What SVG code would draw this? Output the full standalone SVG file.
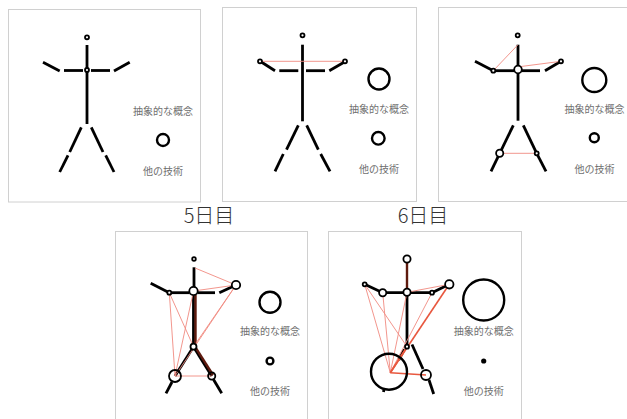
<svg xmlns="http://www.w3.org/2000/svg" width="627" height="419" viewBox="0 0 627 419">
  <defs>
    <style>
      .frame { fill: #fff; stroke: #d0d0d0; stroke-width: 1; }
      .bone { stroke: #000; stroke-width: 2.8; stroke-linecap: butt; fill: none; }
      .bone-dark { stroke: #5e1a0e; stroke-width: 2.4; fill: none; }
      .joint { fill: #fff; stroke: #000; stroke-width: 1.8; }
      .ring { fill: none; stroke: #000; stroke-width: 2.4; }
      .label { font-family: "Noto Sans CJK JP", "Noto Sans", sans-serif; font-size: 10px; fill: #707070; text-anchor: middle; }
      .title { font-family: "Noto Sans CJK JP", "Noto Sans", sans-serif; font-size: 20px; font-weight: 300; fill: #333; text-anchor: middle; }
      .link { stroke: #f08a80; stroke-width: 0.9; fill: none; }
      .link-strong { stroke: #e8583f; stroke-width: 1.6; fill: none; }
    </style>
  </defs>

  <rect width="627" height="419" fill="#fff"/>

  <!-- frames -->
  <g id="frames">
    <rect class="frame" x="8.5" y="9.5" width="192" height="192.5"/>
    <rect class="frame" x="222.5" y="7.5" width="194" height="194"/>
    <rect class="frame" x="438.5" y="7.5" width="200" height="194"/>
    <rect class="frame" x="115.5" y="231.5" width="192" height="200"/>
    <rect class="frame" x="328.5" y="231.5" width="193" height="200"/>
  </g>

  <g id="titles">
    <text class="title" x="209" y="223">5日目</text>
    <text class="title" x="423" y="223">6日目</text>
  </g>

  <!-- day 1 -->
  <g id="figure1">
    <line class="bone" x1="87" y1="45" x2="87" y2="124"/>
    <line class="bone" x1="64" y1="70.5" x2="83" y2="70.5"/>
    <line class="bone" x1="91" y1="70.5" x2="110" y2="70.5"/>
    <line class="bone" x1="43" y1="62.3" x2="59.7" y2="71"/>
    <line class="bone" x1="114" y1="71" x2="129.7" y2="62.3"/>
    <line class="bone" x1="81.3" y1="127.3" x2="69.7" y2="152"/>
    <line class="bone" x1="68" y1="155.3" x2="59.7" y2="172"/>
    <line class="bone" x1="91.3" y1="127.3" x2="103" y2="152"/>
    <line class="bone" x1="105.7" y1="155.3" x2="114" y2="172"/>
    <circle class="joint" cx="87" cy="37.3" r="2"/>
    <circle class="joint" cx="87" cy="70" r="2"/>
  </g>
  <g id="legend1">
    <text class="label" x="163" y="114.5">抽象的な概念</text>
    <circle class="ring" cx="163" cy="140" r="6"/>
    <text class="label" x="163" y="174.5">他の技術</text>
  </g>

  <!-- day 2 -->
  <g id="figure2">
    <line class="bone" x1="302.5" y1="44.7" x2="302.5" y2="121.3"/>
    <line class="bone" x1="261.7" y1="62.3" x2="275" y2="70.7"/>
    <line class="bone" x1="279.3" y1="70.7" x2="298.3" y2="70.7"/>
    <line class="bone" x1="306" y1="70.7" x2="325" y2="70.7"/>
    <line class="bone" x1="329.3" y1="70.7" x2="344" y2="62.3"/>
    <line class="bone" x1="298.3" y1="125.3" x2="286.5" y2="149.7"/>
    <line class="bone" x1="283.3" y1="154" x2="275" y2="171.3"/>
    <line class="bone" x1="306.7" y1="125.3" x2="318.3" y2="149.7"/>
    <line class="bone" x1="320.7" y1="154" x2="330" y2="171.3"/>
  </g>
  <g id="links2">
    <line class="link" x1="260" y1="61.3" x2="345" y2="61.3"/>
  </g>
  <g id="joints2">
    <circle class="joint" cx="302.5" cy="35.3" r="2"/>
    <circle class="joint" cx="260" cy="61.3" r="2"/>
    <circle class="joint" cx="345" cy="61.3" r="2"/>
  </g>
  <g id="legend2">
    <circle class="ring" cx="379" cy="79" r="10.5"/>
    <text class="label" x="379" y="112.5">抽象的な概念</text>
    <circle class="ring" cx="378.3" cy="138.3" r="6.3"/>
    <text class="label" x="379" y="172.5">他の技術</text>
  </g>

  <!-- day 3 -->
  <g id="figure3">
    <line class="bone" x1="518" y1="44.7" x2="518" y2="120.7"/>
    <line class="bone" x1="475" y1="61.3" x2="493.3" y2="70.7"/>
    <line class="bone" x1="493.3" y1="70.7" x2="514.5" y2="70.7"/>
    <line class="bone" x1="521.5" y1="70.7" x2="540" y2="70.7"/>
    <line class="bone" x1="545" y1="70.7" x2="561" y2="61.3"/>
    <line class="bone" x1="513.3" y1="125.3" x2="499.7" y2="153.3"/>
    <line class="bone" x1="499.7" y1="153.3" x2="491" y2="171.3"/>
    <line class="bone" x1="523.3" y1="125.3" x2="536.7" y2="153.3"/>
    <line class="bone" x1="536.7" y1="153.3" x2="546" y2="171.3"/>
  </g>
  <g id="links3">
    <line class="link" x1="517.7" y1="45" x2="493.3" y2="70.7"/>
    <line class="link" x1="521" y1="66.5" x2="561" y2="61.3"/>
    <line class="link" x1="499.7" y1="153.3" x2="536.7" y2="153.3"/>
  </g>
  <g id="joints3">
    <circle class="joint" cx="517.7" cy="35.3" r="2"/>
    <circle class="joint" cx="518" cy="69.5" r="3.8"/>
    <circle class="joint" cx="493.3" cy="70.7" r="2"/>
    <circle class="joint" cx="561" cy="61.3" r="2"/>
    <circle class="joint" cx="499.7" cy="153.3" r="3.6"/>
    <circle class="joint" cx="536.7" cy="153.3" r="2"/>
  </g>
  <g id="legend3">
    <circle class="ring" cx="594.3" cy="80" r="12"/>
    <text class="label" x="594.5" y="112.8">抽象的な概念</text>
    <circle class="ring" cx="594.3" cy="137.7" r="4.5"/>
    <text class="label" x="594.5" y="172.8">他の技術</text>
  </g>

  <!-- day 5 -->
  <g id="figure5">
    <line class="bone" x1="194" y1="267.3" x2="194" y2="287"/>
    <line class="bone" x1="193.5" y1="295" x2="193.5" y2="343.5"/>
    <line class="bone-dark" x1="195.5" y1="295" x2="195.5" y2="343.5" stroke-width="1.4"/>
    <line class="bone" x1="150.7" y1="283.3" x2="169.3" y2="292.7"/>
    <line class="bone" x1="169.3" y1="292.7" x2="189.5" y2="292.7"/>
    <line class="bone" x1="197.5" y1="292.7" x2="215" y2="292.7"/>
    <line class="bone" x1="219.3" y1="292.7" x2="236" y2="285"/>
    <line class="bone" x1="193.5" y1="346.7" x2="175" y2="376"/>
    <line class="bone" x1="172" y1="382" x2="166" y2="393.3"/>
    <line class="bone" x1="193.5" y1="346.7" x2="211.7" y2="376"/>
    <line class="bone-dark" x1="195" y1="346.7" x2="213" y2="375" stroke-width="1.4"/>
    <line class="bone" x1="213.5" y1="379.5" x2="221.7" y2="393.3"/>
  </g>
  <g id="links5">
    <line class="link" x1="195" y1="268" x2="236" y2="285"/>
    <line class="link" x1="193.5" y1="291" x2="236" y2="285"/>
    <line class="link" x1="169.3" y1="292.7" x2="175" y2="376"/>
    <line class="link" x1="169.3" y1="292.7" x2="193.5" y2="346.7"/>
    <line class="link" x1="175" y1="376" x2="193.5" y2="291"/>
    <line class="link" x1="175" y1="376" x2="236" y2="285"/>
    <line class="link" x1="193.5" y1="346.7" x2="236" y2="285"/>
    <line class="link" x1="175" y1="376" x2="211.7" y2="376"/>
  </g>
  <g id="joints5">
    <circle class="joint" cx="194" cy="259" r="1.8"/>
    <circle class="joint" cx="193.5" cy="291" r="4.2"/>
    <circle class="joint" cx="193.5" cy="346.7" r="3"/>
    <circle class="joint" cx="169.3" cy="292.7" r="2"/>
    <circle class="joint" cx="236" cy="285" r="4.2"/>
    <circle class="joint" cx="175" cy="376" r="6" style="fill:none"/>
    <circle class="joint" cx="211.7" cy="376" r="3.6" style="fill:none"/>
  </g>
  <g id="legend5">
    <circle class="ring" cx="270" cy="302.3" r="10.5"/>
    <text class="label" x="270" y="335">抽象的な概念</text>
    <circle class="ring" cx="270" cy="361" r="3.4"/>
    <text class="label" x="270" y="395">他の技術</text>
  </g>

  <!-- day 6 -->
  <g id="figure6">
    <line class="bone-dark" x1="407" y1="263" x2="407" y2="288.5"/>
    <line class="bone" x1="407" y1="296" x2="407" y2="344.5"/>
    <line class="bone" x1="364.7" y1="284.3" x2="382.7" y2="292.7"/>
    <line class="bone" x1="382.7" y1="292.7" x2="432" y2="292.7"/>
    <line class="bone" x1="432" y1="292.7" x2="449.3" y2="284.3"/>
    <line class="bone" x1="404.3" y1="349.3" x2="398.7" y2="360"/>
    <line class="bone" x1="384" y1="389" x2="383.5" y2="392"/>
    <line class="bone" x1="412" y1="344.5" x2="423" y2="369"/>
    <line class="bone" x1="429" y1="380" x2="433.7" y2="394"/>
  </g>
  <g id="links6">
    <line class="link" x1="390.3" y1="372.7" x2="364.7" y2="284.3"/>
    <line class="link" x1="390.3" y1="372.7" x2="382.7" y2="292.7"/>
    <line class="link" x1="390.3" y1="372.7" x2="407" y2="292.3"/>
    <line class="link" x1="390.3" y1="372.7" x2="432" y2="292.7"/>
    <line class="link" x1="364.7" y1="284.3" x2="407" y2="346.7"/>
    <line class="link" x1="407" y1="292.3" x2="449.3" y2="284.3"/>
    <line class="link-strong" x1="390.3" y1="372.7" x2="449.3" y2="284.3"/>
    <line class="link-strong" x1="390.3" y1="372.7" x2="407" y2="346.7"/>
    <line class="link-strong" x1="390.3" y1="372.7" x2="426" y2="375" stroke-width="2.2"/>
  </g>
  <g id="joints6">
    <circle class="joint" cx="407" cy="259" r="3.6" stroke-width="2"/>
    <circle class="joint" cx="407" cy="292.3" r="3.6"/>
    <circle class="joint" cx="407" cy="346.7" r="2"/>
    <circle class="joint" cx="364.7" cy="284.3" r="2"/>
    <circle class="joint" cx="382.7" cy="292.7" r="3.6"/>
    <circle class="joint" cx="432" cy="292.7" r="2"/>
    <circle class="joint" cx="449.3" cy="284.3" r="4.2"/>
    <circle class="ring" cx="389" cy="371.7" r="18"/>
    <circle class="joint" cx="426" cy="375" r="5" style="fill:none" stroke-width="2.2"/>
  </g>
  <g id="legend6">
    <circle class="ring" cx="483.7" cy="300" r="20.5"/>
    <text class="label" x="483.7" y="335">抽象的な概念</text>
    <circle cx="483.7" cy="361" r="2.6" fill="#000"/>
    <text class="label" x="483.7" y="395">他の技術</text>
  </g>
</svg>
